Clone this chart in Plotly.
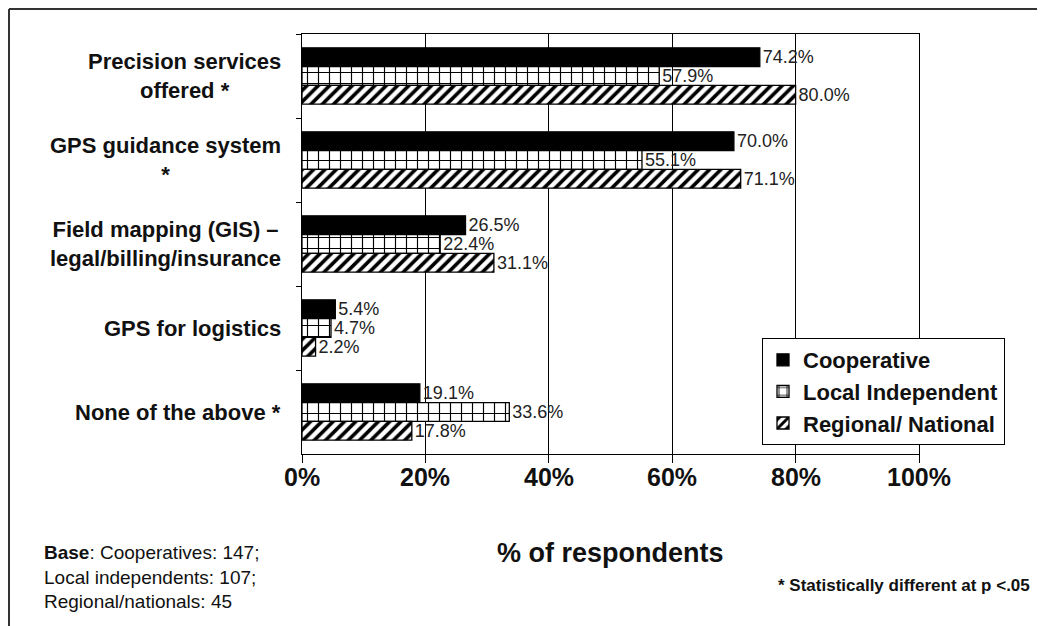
import plotly.graph_objects as go

categories = ["Precision services offered *", "GPS guidance system *",
              "Field mapping (GIS) – legal/billing/insurance",
              "GPS for logistics", "None of the above *"]
category_labels = ["Precision services<br>offered *", "GPS guidance system<br>*",
                   "Field mapping (GIS) –<br>legal/billing/insurance",
                   "GPS for logistics", "None of the above *"]
cooperative = [74.2, 70.0, 26.5, 5.4, 19.1]
local_independent = [57.9, 55.1, 22.4, 4.7, 33.6]
regional_national = [80.0, 71.1, 31.1, 2.2, 17.8]
x_ticks = [0, 20, 40, 60, 80, 100]
x_tick_labels = ["0%", "20%", "40%", "60%", "80%", "100%"]

FONT = "Liberation Sans, Arial, sans-serif"

# page offset (browser body margin)
OX, OY = 8, 8
W_, H_ = 1045, 626
# plot-area geometry in screen pixels
SL, SR, ST, SB = 302, 919, 34, 454
L, R, T, B = SL - OX, SR - OX, ST - OY, SB - OY
PW, PH = R - L, B - T


def px(X):
    return (X - OX - L) / PW


def py(Y):
    return (B - (Y - OY)) / PH


series = [
    ("Cooperative", cooperative, dict(color="black")),
    ("Local Independent", local_independent,
     dict(color="white", pattern=dict(shape="+", fgcolor="black", bgcolor="white",
                                      size=11, solidity=0.2, fgopacity=1))),
    ("Regional/ National", regional_national,
     dict(color="white", pattern=dict(shape="/", fgcolor="black", bgcolor="white",
                                      size=8, solidity=0.45, fgopacity=1))),
]

fig = go.Figure()
for name, vals, mk in series:
    mk = dict(mk)
    mk["line"] = dict(color="black", width=1.3)
    fig.add_trace(go.Bar(
        y=categories, x=vals, name=name, orientation="h", marker=mk,
        text=[f"{v:.1f}%" for v in vals], textposition="outside",
        textfont=dict(family=FONT, size=18, color="#222"),
        constraintext="none", cliponaxis=False,
    ))

annotations = []
for cat, lab in zip(categories, category_labels):
    annotations.append(dict(
        x=px(283), xref="paper", y=cat, yref="y", text=lab, showarrow=False,
        xanchor="right", yanchor="middle", align="center",
        font=dict(family=FONT, size=22, color="#111", weight="bold"),
    ))

for v, t in zip(x_ticks, x_tick_labels):
    annotations.append(dict(
        x=v, xref="x", y=py(477), yref="paper", text=t, showarrow=False,
        xanchor="center", yanchor="middle",
        font=dict(family=FONT, size=25, color="#111", weight="bold"),
    ))

annotations.append(dict(
    x=0.5, xref="paper", y=py(553), yref="paper", text="% of respondents",
    showarrow=False, xanchor="center", yanchor="middle",
    font=dict(family=FONT, size=27, color="#111", weight="bold"),
))

annotations.append(dict(
    x=px(42), xref="paper", y=py(540), yref="paper", xanchor="left", yanchor="top",
    align="left", showarrow=False,
    text="<b>Base</b>: Cooperatives: 147;<br>Local independents: 107;<br>Regional/nationals: 45",
    font=dict(family=FONT, size=19, color="#111"),
))
annotations.append(dict(
    x=px(1032), xref="paper", y=py(585), yref="paper", xanchor="right", yanchor="middle",
    showarrow=False, text="* Statistically different at p <.05",
    font=dict(family=FONT, size=17, color="#111", weight="bold"),
))

shapes = [
    dict(type="line", xref="paper", yref="paper", x0=px(9), x1=px(1045), y0=py(9), y1=py(9),
         line=dict(color="#333", width=2)),
    dict(type="line", xref="paper", yref="paper", x0=px(9), x1=px(9), y0=py(9), y1=py(640),
         line=dict(color="#333", width=2)),
]

fig.update_layout(
    width=W_, height=H_,
    margin=dict(l=L, r=W_ - R, t=T, b=H_ - B, autoexpand=False),
    paper_bgcolor="white", plot_bgcolor="white",
    barmode="group", bargap=0.33, bargroupgap=0,
    font=dict(family=FONT, color="#111"),
    showlegend=True,
    legend=dict(x=px(762), y=py(338), xanchor="left", yanchor="top",
                bgcolor="white", bordercolor="black", borderwidth=1,
                font=dict(family=FONT, size=22, color="#111", weight="bold"),
                traceorder="normal", itemwidth=30, tracegroupgap=0),
    annotations=annotations, shapes=shapes,
)

fig.update_xaxes(
    range=[0, 100], tickvals=x_ticks, showticklabels=False,
    showgrid=True, gridcolor="black", gridwidth=1,
    showline=True, linecolor="black", linewidth=1, mirror=True,
    ticks="outside", ticklen=8, tickcolor="black",
    zeroline=False,
)
fig.update_yaxes(
    autorange="reversed", showticklabels=False,
    showline=True, linecolor="black", linewidth=1, mirror=True,
    ticks="outside", ticklen=5, tickcolor="black", tickson="boundaries",
    showgrid=False,
)

fig.write_html("out.html")
